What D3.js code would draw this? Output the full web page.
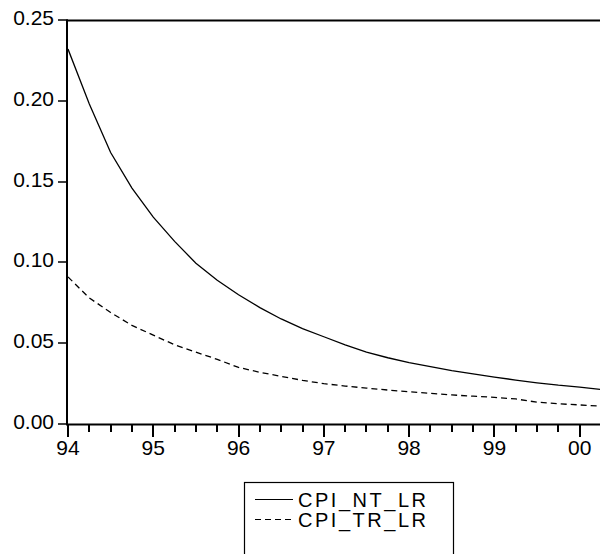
<!DOCTYPE html>
<html>
<head>
<meta charset="utf-8">
<script src="https://cdn.jsdelivr.net/npm/d3@7"></script>
<style>
  html, body { margin: 0; padding: 0; background: #fff; }
  svg { display: block; }
  text { font-family: "Liberation Sans", Arial, sans-serif; fill: #000; }
</style>
</head>
<body>
<svg id="chart" width="600" height="554"></svg>
<script>
// Quarterly observations, 1994Q1 .. 2000Q2
const startYear = 1994;
const quartersPerYear = 4;
const seriesNames = ["CPI_NT_LR", "CPI_TR_LR"];
const cpiNtLr = [
  0.232, 0.198, 0.168, 0.146, 0.128, 0.113, 0.0995, 0.089, 0.080, 0.072,
  0.065, 0.059, 0.054, 0.049, 0.0445, 0.041, 0.038, 0.0355, 0.033, 0.031,
  0.029, 0.0272, 0.0255, 0.024, 0.0228, 0.0213
];
const cpiTrLr = [
  0.091, 0.078, 0.069, 0.061, 0.055, 0.049, 0.0445, 0.040, 0.035, 0.032,
  0.0295, 0.027, 0.025, 0.0235, 0.0222, 0.021, 0.020, 0.019, 0.018, 0.0172,
  0.0165, 0.0155, 0.0135, 0.0125, 0.0118, 0.011
];
const yTicks = [0, 0.05, 0.10, 0.15, 0.20, 0.25];
const xYears = [1994, 1995, 1996, 1997, 1998, 1999, 2000];

const svg = d3.select("#chart");
const plotLeft = 68, plotRight = 601, plotTop = 20, plotBottom = 424;
const fontSize = 21;

const x = d3.scaleLinear()
  .domain([startYear, startYear + (cpiNtLr.length - 1) / quartersPerYear])
  .range([plotLeft, plotRight]);
const y = d3.scaleLinear().domain([0, 0.25]).range([plotBottom, plotTop]);

const quarterTicks = d3.range(0, cpiNtLr.length)
  .map(i => startYear + i / quartersPerYear)
  .filter(t => t % 1 !== 0);

svg.append("g").selectAll("text").data(xYears).join("text")
  .attr("x", d => x(d)).attr("y", plotBottom + 31)
  .attr("text-anchor", "middle").attr("font-size", fontSize)
  .text(d => String(d % 100).padStart(2, "0"));

// Left axis tick marks
svg.append("g").selectAll("rect").data(yTicks).join("rect")
  .attr("x", plotLeft - 10).attr("y", d => Math.round(y(d)) - 0.75)
  .attr("width", 10).attr("height", 1.5).attr("fill", "#000");

svg.append("g").selectAll("text").data(yTicks).join("text")
  .attr("x", plotLeft - 14).attr("y", d => y(d) + 5)
  .attr("text-anchor", "end").attr("font-size", fontSize)
  .text(d3.format(".2f"));

// Frame lines
svg.append("line").attr("x1", plotLeft - 1).attr("x2", plotLeft - 1)
  .attr("y1", plotTop).attr("y2", plotBottom + 1)
  .attr("stroke", "#000").attr("stroke-width", 2);
svg.append("line").attr("x1", plotLeft - 2).attr("x2", 600)
  .attr("y1", plotBottom + 0.5).attr("y2", plotBottom + 0.5)
  .attr("stroke", "#000").attr("stroke-width", 2);
svg.append("line").attr("x1", plotLeft - 2).attr("x2", 600)
  .attr("y1", plotTop + 0.5).attr("y2", plotTop + 0.5)
  .attr("stroke", "#000").attr("stroke-width", 1.8);

// Series lines
const line = d3.line()
  .x((d, i) => x(startYear + i / quartersPerYear))
  .y(d => y(d));

svg.append("defs").append("clipPath").attr("id", "plot")
  .append("rect").attr("x", plotLeft).attr("y", plotTop)
  .attr("width", 600 - plotLeft).attr("height", plotBottom - plotTop);

const plot = svg.append("g").attr("clip-path", "url(#plot)");
plot.append("path").datum(cpiNtLr)
  .attr("d", line).attr("fill", "none")
  .attr("stroke", "#000").attr("stroke-width", 1.3);
plot.append("path").datum(cpiTrLr)
  .attr("d", line).attr("fill", "none")
  .attr("stroke", "#000").attr("stroke-width", 1.3)
  .attr("stroke-dasharray", "6,4");

// Bottom axis tick marks: short for quarters, long for years
const xTicks = svg.append("g").attr("transform", `translate(0,${plotBottom})`);
xTicks.selectAll("rect.minor").data(quarterTicks).join("rect")
  .attr("class", "minor")
  .attr("x", d => Math.round(x(d)) - 1).attr("y", 0)
  .attr("width", 2).attr("height", 8).attr("fill", "#000");
xTicks.selectAll("rect.major").data(xYears).join("rect")
  .attr("class", "major")
  .attr("x", d => Math.round(x(d)) - 1).attr("y", 0)
  .attr("width", 2).attr("height", 13).attr("fill", "#000");

// Legend
const legend = svg.append("g");
legend.append("rect").attr("x", 244.5).attr("y", 482.5)
  .attr("width", 209).attr("height", 90)
  .attr("fill", "none").attr("stroke", "#000").attr("stroke-width", 1.2);
const dashes = [null, "6,4"];
seriesNames.forEach((name, i) => {
  const cy = 499.5 + i * 20;
  legend.append("line").attr("x1", 255).attr("x2", 293)
    .attr("y1", cy).attr("y2", cy)
    .attr("stroke", "#000").attr("stroke-width", 1.2)
    .attr("stroke-dasharray", dashes[i]);
  legend.append("text").attr("x", 298).attr("y", cy + 7.5)
    .attr("font-size", 20)
    .attr("textLength", 128).attr("lengthAdjust", "spacing")
    .text(name);
});
</script>
</body>
</html>
